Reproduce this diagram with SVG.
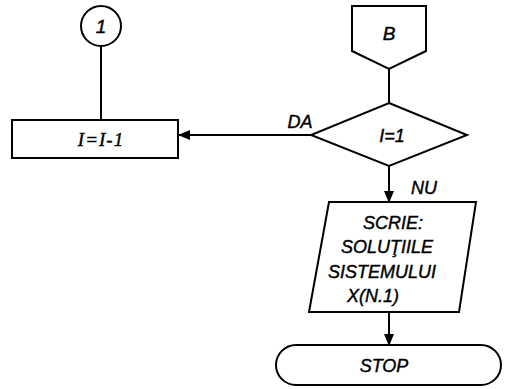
<svg xmlns="http://www.w3.org/2000/svg" width="508" height="389" viewBox="0 0 508 389">
<style>
.s{fill:#fff;stroke:#000;stroke-width:2}
.l{fill:none;stroke:#000;stroke-width:2}
.t{font-family:"Liberation Sans",Arial,sans-serif;font-style:italic;font-size:18px;fill:#000;stroke:#000;stroke-width:0.4;text-anchor:middle}
</style>
<defs>
<marker id="ah" markerWidth="12" markerHeight="10" refX="11" refY="5" orient="auto" markerUnits="userSpaceOnUse">
<path d="M0,0 L12,5 L0,10 Z" fill="#000"/>
</marker>
</defs>
<rect width="508" height="389" fill="#fff"/>
<g id="connectors">
<line class="l" x1="101" y1="47" x2="101" y2="120"/>
<line class="l" x1="389" y1="69" x2="389" y2="103"/>
<line class="l" x1="311" y1="135" x2="179" y2="135" marker-end="url(#ah)"/>
<line class="l" x1="389" y1="166" x2="389" y2="202" marker-end="url(#ah)"/>
<line class="l" x1="389" y1="312" x2="389" y2="345" marker-end="url(#ah)"/>
<text class="t" x="300" y="128">DA</text>
<text class="t" x="424" y="194">NU</text>
</g>
<g id="conn1">
<circle class="s" cx="101" cy="26" r="20"/>
<text class="t" x="101" y="33" style="font-size:19px">1</text>
</g>
<g id="dec">
<rect class="s" x="12" y="120" width="166" height="38"/>
<text class="t" x="101" y="146" style="font-family:'Liberation Serif',serif;font-size:19px;letter-spacing:1px">I=I-1</text>
</g>
<g id="B">
<path class="s" d="M352,6 L426,6 L426,51 L389,69 L352,51 Z"/>
<text class="t" x="389" y="40" style="font-size:19px">B</text>
</g>
<g id="cond">
<path class="s" d="M389,103 L467,135 L389,166 L311,135 Z"/>
<text class="t" x="392" y="142">I=1</text>
</g>
<g id="out">
<path class="s" d="M329,202 L476,202 L459,312 L309,312 Z"/>
<text class="t" x="393" y="229">SCRIE:</text>
<text class="t" x="387" y="253">SOLUŢIILE</text>
<text class="t" x="382" y="278">SISTEMULUI</text>
<text class="t" x="373" y="302">X(N.1)</text>
</g>
<g id="stop">
<rect class="s" x="276" y="345" width="225" height="40" rx="20" ry="20"/>
<text class="t" x="384" y="372">STOP</text>
</g>
</svg>
